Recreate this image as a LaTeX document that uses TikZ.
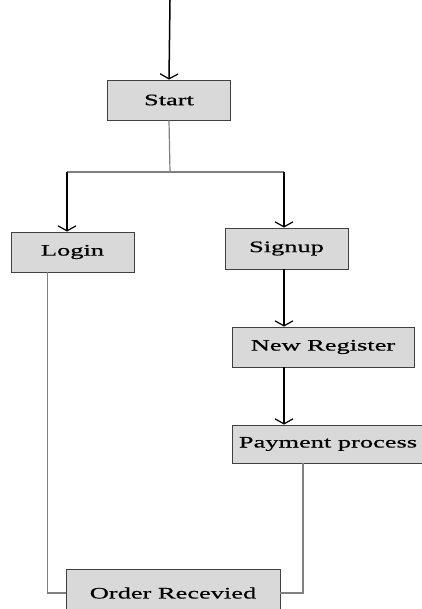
\documentclass[tikz,border=0pt]{standalone}
\usepackage{fontspec}
\setmainfont{Liberation Serif}
\newfontfamily\boxfont[FakeStretch=1.65, FakeBold=0.6]{Liberation Serif}
\usetikzlibrary{
		calc,
		positioning,
		arrows.meta
	}
\definecolor{boxfill}{HTML}{D9D9D9}
\definecolor{boxedge}{HTML}{404040}
\definecolor{flowgray}{HTML}{808080}
\tikzset{
		>=stealth,
		stepbox/.style={draw=boxedge, fill=boxfill, line width=0.9pt, minimum height=40pt, inner sep=0pt, font=\boxfont\fontsize{16}{18}\selectfont},
		flowarrow/.style={draw=black, line width=1.5pt, -{Straight Barb[length=5pt, width=18pt, line width=1.2pt]}},
		flowline/.style={draw=flowgray, line width=1.2pt}
	}

\begin{document}
\begin{tikzpicture}[x=1pt, y=-1pt]
		\useasboundingbox (0,0) rectangle (422,609);
		% boxes
		\node[stepbox, minimum width=123pt] (start) at (169,100) {Start};
		\node[stepbox, minimum width=123pt] (login) at (72.5,252) {Login};
		\node[stepbox, minimum width=123pt, minimum height=41pt] (signup) at (286.5,248.5) {Signup};
		\node[stepbox, minimum width=182pt] (newreg) at (323,347) {New Register};
		\node[stepbox, minimum width=192pt, minimum height=38pt] (pay) at (328,444) {Payment process};
		\node[stepbox, minimum width=214pt, minimum height=48pt] (order) at (173,593) {Order Recevied};
		% split points
		\coordinate (entry) at (170,0);
		\coordinate (split) at (170,172);
		\coordinate (lsplit) at (67,172);
		\coordinate (rsplit) at (284,172);
		% connectors
		\draw[flowarrow] (entry) -- (start.north);
		\draw[flowline] (start.south) -- (split);
		\draw[flowline] (lsplit) -- (rsplit);
		\draw[flowarrow] (lsplit) -- (lsplit |- login.north);
		\draw[flowarrow] (rsplit) -- (rsplit |- signup.north);
		\draw[flowarrow] (rsplit |- signup.south) -- (rsplit |- newreg.north);
		\draw[flowarrow] (rsplit |- newreg.south) -- (rsplit |- pay.north);
		\draw[flowline] ($(login.south)+(-25,0)$) |- (order.west);
		\draw[flowline] ($(pay.south)+(-25,0)$) |- (order.east);
	\end{tikzpicture}
\end{document}
